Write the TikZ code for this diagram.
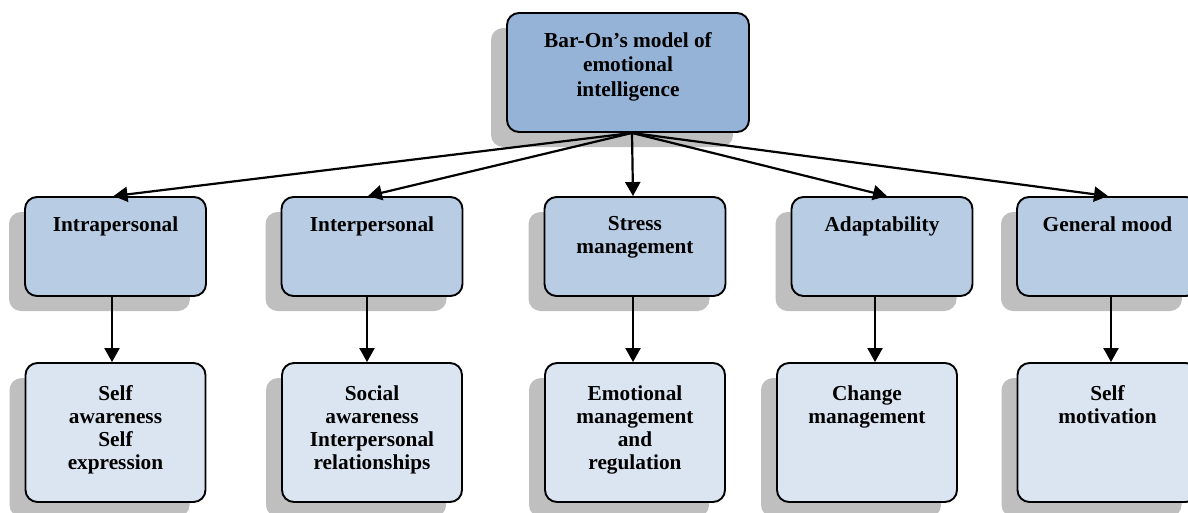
\documentclass[tikz,border=0pt]{standalone}
\usepackage{fontspec}
\setmainfont{Liberation Serif}
\usetikzlibrary{arrows.meta,shadows,calc}
\definecolor{topblue}{HTML}{95B3D7}
\definecolor{midblue}{HTML}{B8CCE4}
\definecolor{botblue}{HTML}{DBE5F1}
\definecolor{shadowgray}{HTML}{BFBFBF}
\begin{document}
\begin{tikzpicture}[x=1pt,y=-1pt,
  box/.style={draw=black, line width=1.9pt, rounded corners=12pt, inner sep=0pt,
    drop shadow={shadow xshift=-16pt, shadow yshift=-15pt, fill=shadowgray, opacity=1}},
  topbox/.style={box, fill=topblue, minimum width=242pt, minimum height=119pt},
  midbox/.style={box, fill=midblue, minimum width=181pt, minimum height=99pt},
  botbox/.style={box, fill=botblue, minimum width=180pt, minimum height=139pt},
  lbl/.style={anchor=north, align=center, inner sep=0pt, font=\bfseries\fontsize{21.3}{23.2}\selectfont},
  arr/.style={line width=2.2pt, -{Triangle[length=14pt,width=15pt]}}
]
\useasboundingbox (0,0) rectangle (1188,512);

% root
\node[topbox] (root) at (628,72.5) {};
\node[lbl, font=\bfseries\fontsize{21.3}{24.5}\selectfont] (rootT) at ($(root.north)+(0,20)$) {Bar-On’s model of\\emotional\\intelligence};

% middle row
\node[midbox] (i1) at (115.5,246.5) {};
\node[midbox] (i2) at (372,246.5) {};
\node[midbox] (i3) at (635,246.5) {};
\node[midbox] (i4) at (882,246.5) {};
\node[midbox] (i5) at (1107.5,246.5) {};
\node[lbl] (t1) at ($(i1.north)+(0,20)$) {Intrapersonal};
\node[lbl] (t2) at ($(i2.north)+(0,20)$) {Interpersonal};
\node[lbl] (t3) at ($(i3.north)+(0,20)$) {Stress\\management};
\node[lbl] (t4) at ($(i4.north)+(0,20)$) {Adaptability};
\node[lbl] (t5) at ($(i5.north)+(0,20)$) {General mood};

% bottom row
\node[botbox] (b1) at (115.5,432.5) {};
\node[botbox] (b2) at (372,432.5) {};
\node[botbox] (b3) at (635,432.5) {};
\node[botbox] (b4) at (867,432.5) {};
\node[botbox] (b5) at (1107.5,432.5) {};
\node[lbl] (u1) at ($(b1.north)+(0,23)$) {Self\\awareness\\Self\\expression};
\node[lbl] (u2) at ($(b2.north)+(0,23)$) {Social\\awareness\\Interpersonal\\relationships};
\node[lbl] (u3) at ($(b3.north)+(0,23)$) {Emotional\\management\\and\\regulation};
\node[lbl] (u4) at ($(b4.north)+(0,23)$) {Change\\management};
\node[lbl] (u5) at ($(b5.north)+(0,23)$) {Self\\motivation};

% connectors from root
\coordinate (o) at ($(root.south)+(4,0)$);
\draw[arr] (o) -- ($(i1.north)+(-2,0)$);
\draw[arr] (o) -- ($(i2.north)+(-4,0)$);
\draw[arr] (o) -- ($(i3.north)+(-2,0)$);
\draw[arr] (o) -- ($(i4.north)+(5,0)$);
\draw[arr] (o) -- ($(i5.north)+(0.5,0)$);

% vertical connectors
\draw[arr] ($(i1.south)+(-3.5,0)$) -- ($(b1.north)+(-3.5,0)$);
\draw[arr] ($(i2.south)+(-5,0)$) -- ($(b2.north)+(-5,0)$);
\draw[arr] ($(i3.south)+(-2,0)$) -- ($(b3.north)+(-2,0)$);
\draw[arr] ($(i4.south)+(-7,0)$) -- ($(b4.north)+(8,0)$);
\draw[arr] ($(i5.south)+(3.5,0)$) -- ($(b5.north)+(3.5,0)$);
\end{tikzpicture}
\end{document}
